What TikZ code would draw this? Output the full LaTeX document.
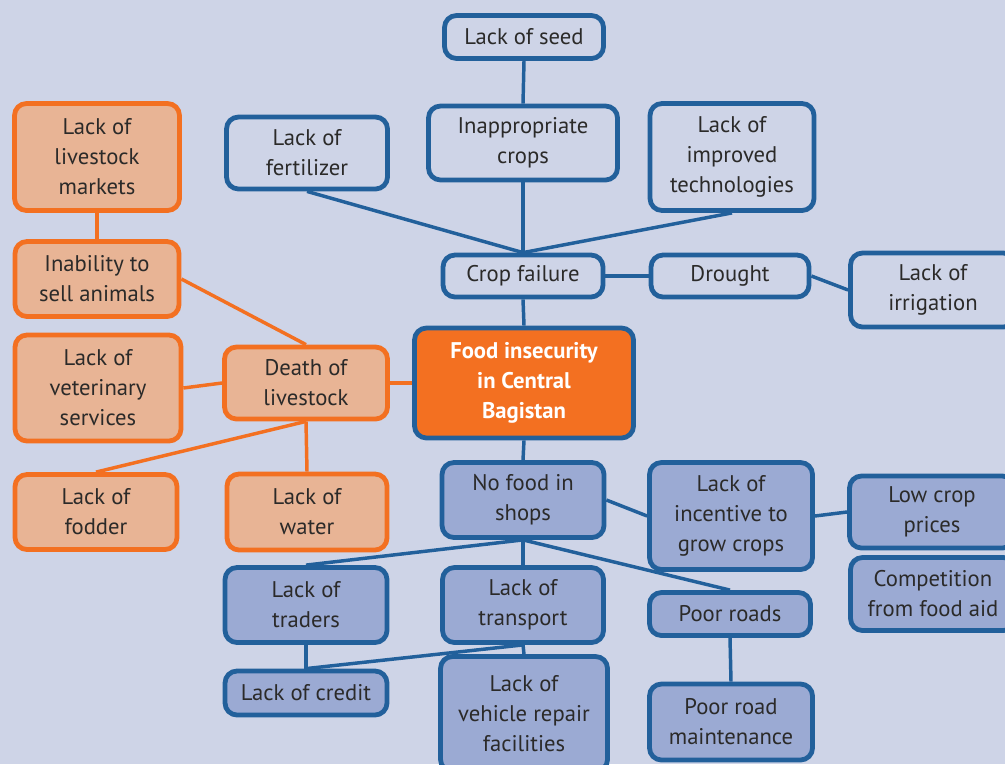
\documentclass[tikz,border=0pt]{standalone}
\usepackage{fontspec}
\setmainfont{PT Sans}
\usetikzlibrary{backgrounds}

\definecolor{paper}{HTML}{CED4E7}
\definecolor{lineblue}{HTML}{22609B}
\definecolor{fillblue}{HTML}{9BAAD3}
\definecolor{orng}{HTML}{F37021}
\definecolor{salmon}{HTML}{E8B495}
\definecolor{ink}{HTML}{2B2A29}

\tikzset{
  sz/.style 2 args={minimum width=0.75*#1, minimum height=0.75*#2},
  box/.style={rounded corners=9pt, line width=3.6pt, align=center, inner sep=0pt,
    text=ink, font=\fontsize{17}{22.5}\selectfont},
  cause/.style={box, draw=lineblue, fill=paper},
  effect/.style={box, draw=lineblue, fill=fillblue},
  stock/.style={box, draw=orng, fill=salmon},
  core/.style={box, draw=lineblue, fill=orng, text=white, font=\fontsize{17}{22.5}\selectfont\bfseries},
  link/.style={line width=2.6pt, draw=lineblue},
  olink/.style={line width=2.6pt, draw=orng}
}

\begin{document}
\begin{tikzpicture}[x=0.75pt, y=-0.75pt]

  \useasboundingbox (0,0) rectangle (1005,764);

  % crop side
  \node[cause, sz={159}{43}]  (seed)    at (524,37)  {Lack of seed};
  \node[cause, sz={161}{72}]  (fert)    at (307,153) {Lack of\\fertilizer};
  \node[cause, sz={189}{74}]  (inapp)   at (523,143) {Inappropriate\\crops};
  \node[cause, sz={164}{107}] (tech)    at (732,157) {Lack of\\improved\\technologies};
  \node[cause, sz={160}{42}]  (fail)    at (523,276) {Crop failure};
  \node[cause, sz={158}{42}]  (drought) at (730,276) {Drought};
  \node[cause, sz={165}{74}]  (irrig)   at (933,290) {Lack of\\irrigation};

  % livestock side
  \node[stock, sz={165}{107}] (markets) at (97,157)  {Lack of\\livestock\\markets};
  \node[stock, sz={164}{75}]  (sell)    at (97,279)  {Inability to\\sell animals};
  \node[stock, sz={166}{106}] (vet)     at (98,388)  {Lack of\\veterinary\\services};
  \node[stock, sz={163}{72}]  (death)   at (306,383) {Death of\\livestock};
  \node[stock, sz={162}{75}]  (fodder)  at (96,512)  {Lack of\\fodder};
  \node[stock, sz={160}{76}]  (water)   at (307,512) {Lack of\\water};

  \node[core, sz={219}{110}]  (food)    at (524,383) {Food insecurity\\in Central\\Bagistan};

  % market side
  \node[effect, sz={162}{75}]  (shops)     at (523,500) {No food in\\shops};
  \node[effect, sz={163}{107}] (incentive) at (731,516) {Lack of\\incentive to\\grow crops};
  \node[effect, sz={165}{72}]  (prices)    at (932,512) {Low crop\\prices};
  \node[effect, sz={165}{73}]  (aid)       at (933,594) {Competition\\from food aid};
  \node[effect, sz={162}{75}]  (traders)   at (306,605) {Lack of\\traders};
  \node[effect, sz={161}{75}]  (transport) at (523,605) {Lack of\\transport};
  \node[effect, sz={161}{43}]  (roads)     at (730,614) {Poor roads};
  \node[effect, sz={162}{44}]  (credit)    at (306,693) {Lack of credit};
  \node[effect, sz={167}{115}] (repair)    at (524,714) {Lack of\\vehicle repair\\facilities};
  \node[effect, sz={163}{76}]  (maint)     at (731,722) {Poor road\\maintenance};

  \begin{scope}[on background layer]
    \fill[paper] (0,0) rectangle (1005,764);

    \draw[link] (seed.south) -- (inapp.north);
    \draw[link] (fert.south) -- (fail.north);
    \draw[link] (inapp.south) -- (fail.north);
    \draw[link] (tech.south) -- (fail.north);
    \draw[link] (fail.east) -- (drought.west);
    \draw[link] (drought.east) -- (irrig.west);
    \draw[link] (fail.south) -- (food.north);

    \draw[olink] (markets.south) -- (sell.north);
    \draw[olink] (sell.east) -- (death.north);
    \draw[olink] (vet.east) -- (death.west);
    \draw[olink] (death.south) -- (fodder.north);
    \draw[olink] (death.south) -- (water.north);
    \draw[olink] (food.west) -- (death.east);

    \draw[link] (food.south) -- (shops.north);
    \draw[link] (shops.east) -- (incentive.west);
    \draw[link] (incentive.east) -- (prices.west);
    \draw[link] (shops.south) -- (traders.north);
    \draw[link] (shops.south) -- (transport.north);
    \draw[link] (shops.south) -- (roads.north);
    \draw[link] (traders.south) -- (credit.north);
    \draw[link] (transport.south) -- (credit.north);
    \draw[link] (transport.south) -- (repair.north);
    \draw[link] (roads.south) -- (maint.north);
  \end{scope}

\end{tikzpicture}
\end{document}
